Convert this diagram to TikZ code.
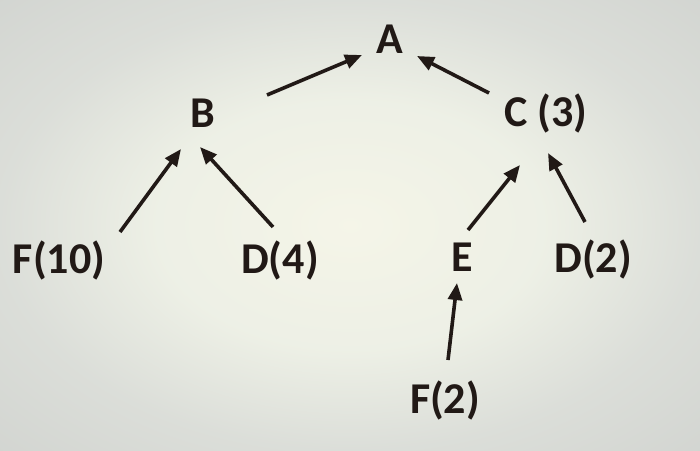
\documentclass[tikz,border=0pt]{standalone}
\usepackage{fontspec}
\setmainfont{Carlito}
\usetikzlibrary{arrows.meta}
\definecolor{ink}{RGB}{33,25,22}
\pgfdeclareradialshading{screen}{\pgfpoint{0bp}{0bp}}{%
	rgb(0bp)=(0.96,0.96,0.91);rgb(14bp)=(0.93,0.94,0.90);rgb(25bp)=(0.86,0.87,0.85);rgb(50bp)=(0.78,0.79,0.78)}
\begin{document}
\begin{tikzpicture}[x=1pt,y=1pt,
	lbl/.style={anchor=base,inner sep=0pt,text=ink,font=\fontsize{44}{50}\selectfont\bfseries},
	arr/.style={draw=ink,line width=3.6pt,-{Triangle[length=17pt,width=14pt]}}]
	\shade[shading=screen] (0,0) rectangle (700,450);
	\node[lbl] (a) at (390,396) {A};
	\node[lbl] (b) at (203,322) {B};
	\node[lbl] (c3) at (546,323) {C (3)};
	\node[lbl] (f10) at (59,177) {F(10)};
	\node[lbl] (d4) at (280,177) {D(4)};
	\node[lbl] (e) at (462,179) {E};
	\node[lbl] (d2) at (593,178) {D(2)};
	\node[lbl] (f2) at (445,37) {F(2)};
	\draw[arr] ([shift={(64,33)}]b.base) -- ([shift={(-28,-1)}]a.base);
	\draw[arr] ([shift={(-57,34)}]c3.base) -- ([shift={(27,-2)}]a.base);
	\draw[arr] ([shift={(61,41)}]f10.base) -- ([shift={(-22,-21)}]b.base);
	\draw[arr] ([shift={(-7,46)}]d4.base) -- ([shift={(-3,-19)}]b.base);
	\draw[arr] ([shift={(6,41)}]e.base) -- ([shift={(-26,-38)}]c3.base);
	\draw[arr] ([shift={(-8,50)}]d2.base) -- ([shift={(2,-26)}]c3.base);
	\draw[arr] ([shift={(3,53)}]f2.base) -- ([shift={(-5,-12)}]e.base);
\end{tikzpicture}
\end{document}
